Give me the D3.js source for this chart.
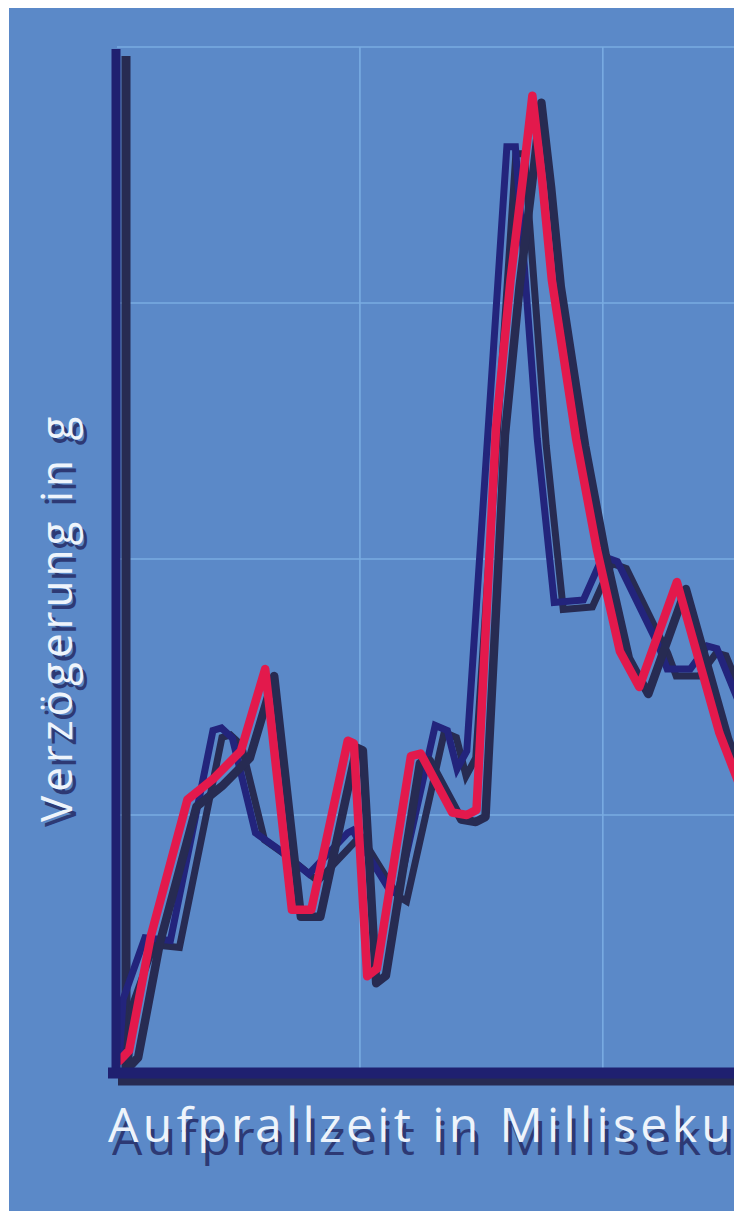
<!DOCTYPE html>
<html>
<head>
<meta charset="utf-8">
<script src="https://cdn.jsdelivr.net/npm/d3@7"></script>
<style>
  body { margin: 0; background: #fff; }
  svg { display: block; }
</style>
</head>
<body>
<svg></svg>
<script>
// grid values (ms / g)
const xGrid = [10, 20];
const yGrid = [10, 20, 30, 40];

// red curve
const redTime = [0.1, 0.5, 1.4, 2.9, 3.95, 5.1, 6.1, 7.2, 8.0, 9.5, 9.75, 10.3, 10.7, 12.1, 12.5, 13.8, 14.4, 14.8, 15.6, 16.2, 16.7, 17.1, 17.5, 17.9, 18.9, 19.75, 20.7, 21.5, 23.05, 24.8, 25.9];
const redG    = [0.4, 0.8, 5.3, 10.6, 11.4, 12.5, 15.7, 6.3, 6.3, 12.9, 12.8, 3.7, 4.0, 12.3, 12.4, 10.1, 10.0, 10.2, 25.1, 30.9, 34.8, 38.1, 34.8, 30.9, 24.7, 20.4, 16.4, 15.0, 19.1, 13.2, 10.5];

// blue curve
const blueTime = [0.1, 0.25, 1.15, 2.2, 3.95, 4.3, 4.75, 5.7, 6.6, 7.9, 9.5, 9.7, 11.2, 11.55, 13.1, 13.6, 14.0, 14.4, 16.05, 16.4, 17.3, 18.0, 19.2, 20.0, 20.6, 22.3, 22.65, 23.6, 24.3, 24.7, 25.9];
const blueG    = [0.5, 2.8, 5.2, 5.1, 13.3, 13.4, 13.0, 9.3, 8.7, 7.7, 9.3, 9.4, 7.1, 6.9, 13.5, 13.3, 11.8, 12.5, 36.1, 36.1, 24.7, 18.3, 18.4, 20.1, 19.9, 16.6, 15.7, 15.7, 16.6, 16.5, 13.7];

const W = 734, H = 1211;
const svg = d3.select("svg").attr("width", W).attr("height", H);

const x = d3.scaleLinear().domain([0, 25.4]).range([117, 734]);
const y = d3.scaleLinear().domain([0, 40]).range([1071, 47]);

// background
svg.append("rect")
    .attr("x", 9).attr("y", 8)
    .attr("width", W - 9).attr("height", H - 8)
    .attr("fill", "#5b89c8");

// grid
svg.append("g").selectAll("line")
    .data(yGrid)
    .join("line")
    .attr("x1", x(0)).attr("x2", W)
    .attr("y1", d => y(d)).attr("y2", d => y(d))
    .attr("stroke", "#79ace2").attr("stroke-width", 1.6);

svg.append("g").selectAll("line")
    .data(xGrid)
    .join("line")
    .attr("x1", d => x(d)).attr("x2", d => x(d))
    .attr("y1", y(40)).attr("y2", y(0))
    .attr("stroke", "#79ace2").attr("stroke-width", 1.6);

const shadow = "#272b52";
const dx = 9, dy = 7;

// axes with shadow
function axes(g, color, ox, oy) {
    g.append("line")
        .attr("x1", x(0) - 1 + ox).attr("x2", x(0) - 1 + ox)
        .attr("y1", 49 + oy).attr("y2", 1078 + oy)
        .attr("stroke", color).attr("stroke-width", 9);
    g.append("line")
        .attr("x1", 108 + ox).attr("x2", W + 20)
        .attr("y1", 1073 + oy).attr("y2", 1073 + oy)
        .attr("stroke", color).attr("stroke-width", 11);
}
axes(svg.append("g"), shadow, 10, 7);

const line = d3.line().x(d => x(d[0])).y(d => y(d[1]));
const red = redTime.map((t, i) => [t, redG[i]]);
const blue = blueTime.map((t, i) => [t, blueG[i]]);

const plot = svg.append("g");
function curve(data, color, w, join, ox, oy) {
    plot.append("path")
        .attr("d", line(data))
        .attr("transform", `translate(${ox},${oy})`)
        .attr("fill", "none")
        .attr("stroke", color)
        .attr("stroke-width", w)
        .attr("stroke-linejoin", join)
        .attr("stroke-linecap", "round");
}
curve(blue, shadow, 7, "miter", dx, dy);
curve(blue, "#23247c", 7, "miter", 0, 0);
curve(red, shadow, 8.5, "round", dx, dy);
curve(red, "#e3194c", 8.5, "round", 0, 0);

axes(svg.append("g"), "#1f2070", 0, 0);

// labels
const font = "'Open Sans', sans-serif";
function label(tx, ty, rot, text, size, spacing, sx, sy) {
    svg.append("text")
        .attr("transform", `translate(${tx + sx},${ty + sy}) rotate(${rot})`)
        .attr("fill", "#262c66").attr("opacity", 0.85)
        .style("font-family", font).style("font-size", size + "px")
        .style("letter-spacing", spacing + "px")
        .text(text);
    svg.append("text")
        .attr("transform", `translate(${tx},${ty}) rotate(${rot})`)
        .attr("fill", "#eef4fb")
        .style("font-family", font).style("font-size", size + "px")
        .style("letter-spacing", spacing + "px")
        .text(text);
}
label(108, 1142, 0, "Aufprallzeit in Millisekunden", 48, 4.4, 4, 13);
label(72, 822, -90, "Verzögerung in g", 44, 4, 4, 5);
</script>
</body>
</html>
